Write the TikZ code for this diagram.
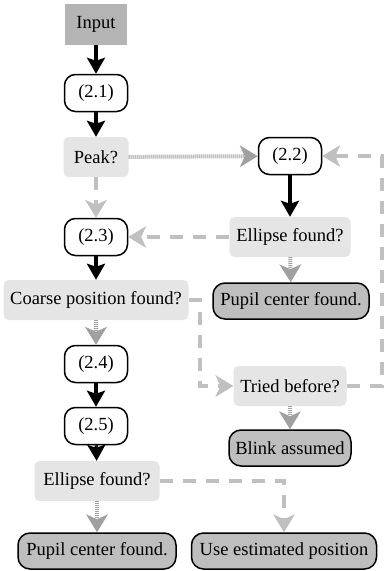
\documentclass[tikz,border=0pt]{standalone}
\usepackage{fontspec}
\setmainfont{Liberation Serif}
\usetikzlibrary{arrows.meta}
\definecolor{inputgray}{RGB}{180,180,180}
\definecolor{decgray}{RGB}{229,229,229}
\definecolor{outgray}{RGB}{190,190,190}
\definecolor{dashgray}{RGB}{192,192,192}
\definecolor{dotgray}{RGB}{160,160,160}
\tikzset{
  base/.style={font=\fontsize{18.5}{20}\selectfont, inner sep=2pt, align=center},
  inputbox/.style={base, fill=inputgray, minimum width=62pt, minimum height=41pt},
  procbox/.style={base, draw=black, line width=1.5pt, fill=white, rounded corners=11pt, minimum width=63pt, minimum height=37pt},
  decbox/.style={base, fill=decgray, rounded corners=5pt, minimum height=40pt, inner xsep=4pt},
  outbox/.style={base, draw=black, line width=1.5pt, fill=outgray, rounded corners=12pt, minimum height=36pt, inner xsep=3pt},
  blackarrow/.style={draw=black, line width=3.5pt, -{Stealth[length=16pt,width=18pt,inset=3pt]}},
  dasharrow/.style={draw=dashgray, line width=4pt, dash pattern=on 13pt off 10pt, -{Stealth[length=18pt,width=22pt,inset=5pt,fill=dashgray,line width=0pt]}},
  dotarrow/.style={draw=dotgray, line width=4pt, dash pattern=on 1pt off 1pt, -{Stealth[length=18pt,width=22pt,inset=5pt,fill=dotgray,line width=0pt]}},
}
\begin{document}
\begin{tikzpicture}[x=1pt,y=-1pt]
\useasboundingbox (0,0) rectangle (384,571);
% nodes
\node[inputbox] (input) at (96,24) {Input};
\node[procbox] (n21) at (96,93) {(2.1)};
\node[decbox, minimum width=65pt] (peak) at (96,157) {Peak?};
\node[procbox] (n22) at (290,156) {(2.2)};
\node[procbox] (n23) at (96,237) {(2.3)};
\node[decbox, minimum width=121pt] (ell1) at (290,237) {Ellipse found?};
\node[decbox, minimum width=185pt] (coarse) at (96,300) {Coarse position found?};
\node[outbox, minimum width=156pt] (pup1) at (291,301) {Pupil center found.};
\node[procbox] (n24) at (96,364) {(2.4)};
\node[decbox, minimum width=113pt] (tried) at (290,386) {Tried before?};
\node[procbox] (n25) at (96,426) {(2.5)};
\node[outbox, minimum width=122pt] (blink) at (290,448) {Blink assumed};
\node[decbox, minimum width=125pt] (ell2) at (97,481) {Ellipse found?};
\node[outbox, minimum width=158pt] (pup2) at (97,551) {Pupil center found.};
\node[outbox, minimum width=185pt] (use) at (284,551) {Use estimated position};
\coordinate (lc) at (200,300);
\coordinate (rc) at (382,156);
% connectors
\draw[blackarrow] (input) -- (n21);
\draw[blackarrow] (n21) -- (peak);
\draw[dotarrow] (peak) -- (n22);
\draw[dasharrow] (peak) -- (n23);
\draw[blackarrow] (n22) -- (ell1);
\draw[dotarrow] (ell1) -- (pup1);
\draw[dasharrow] (ell1) -- (n23);
\draw[blackarrow] (n23) -- (coarse);
\draw[dotarrow] (coarse) -- (n24);
\draw[dasharrow] (coarse.east) -- (lc) |- (tried.west);
\draw[blackarrow] (n24) -- (n25);
\draw[blackarrow] (n25) -- (ell2);
\draw[dotarrow] (ell2) -- (pup2);
\draw[dasharrow] (ell2.east) -| (use.north);
\draw[dotarrow] (tried) -- (blink);
\draw[dasharrow] (tried.east) -| (rc) -- (n22.east);
\end{tikzpicture}
\end{document}
